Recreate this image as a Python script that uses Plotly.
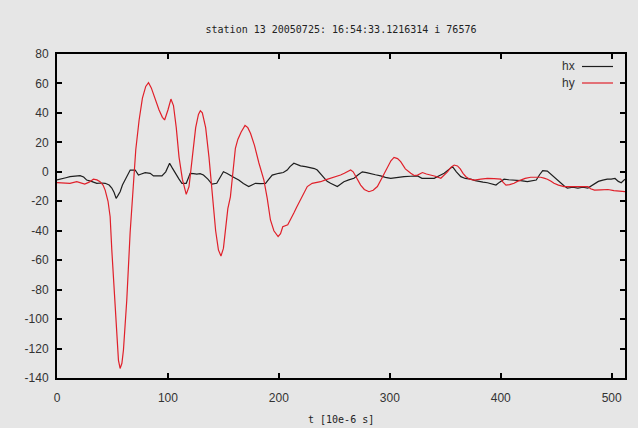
import plotly.graph_objects as go

# ---- data ----
hy_t = [0, 6, 11.7, 17.8, 22, 25, 29, 32.8, 36, 38.8, 41.5, 43.4, 46, 47.9, 49.4, 52.4, 55.4, 56.9,
        58.5, 59.9, 62.9, 65.9, 68.9, 71, 74, 77, 80, 82.5, 85, 88, 92, 95, 97, 100, 102.7, 105,
        107.5, 110, 113, 116.5, 119, 122, 125, 127.5, 129.2, 131, 134, 137, 140, 143, 145.5, 147.8,
        150, 152, 154, 156.3, 158, 160.8, 163, 166, 169.5, 172, 174.5, 178, 182, 186.5, 189.5,
        192.4, 195.5, 199.3, 201.5, 203.5, 208, 211, 213.5, 216, 219.5, 222, 225.6, 230, 234,
        237.6, 242, 246.6, 251, 255.6, 259, 264.7, 267, 270, 273.7, 277, 281.2, 285, 288.8, 293,
        297.8, 301, 303.8, 307, 309.8, 314, 318.9, 322, 325, 329.4, 333, 337, 341, 346, 349, 352,
        355, 358, 361, 363.5, 366, 368.6, 372, 376, 382, 388, 394, 400, 402, 404.7, 408, 412, 415,
        418, 422, 427, 432, 436, 439, 442, 445, 448, 452, 457, 463, 469.5, 474, 478.5, 481, 484.5,
        490, 496.6, 502, 508.6, 512]
hy_v = [-7.4, -7.6, -7.8, -6.7, -7.5, -8.3, -7, -5, -5.5, -6.7, -9, -12.4, -20, -30.5, -53, -94,
        -128, -133.5, -130, -121, -87, -41.6, -5, 15, 35, 50, 58, 60.5, 57, 50, 42, 37, 35.2, 42,
        49.4, 45, 30, 10, -5, -15.3, -10, 10, 30, 39, 41.5, 40, 30, 10, -15, -40, -53, -57.2, -52,
        -38, -25, -17, -5, 16, 22, 27, 31.5, 30, 26, 18, 6, -5.6, -18, -32.7, -40, -44, -42, -37.3,
        -36, -32, -28, -24, -19, -15, -10, -7.8, -7.2, -6.7, -5.5, -4.4, -3.5, -2.2, -1, 1.2, 0,
        -4, -9, -12, -13.5, -12.5, -10, -4, 3.5, 7.5, 9.8, 9, 6.9, 2, -1, -2.5, -2.2, -0.5, -1.5,
        -2.2, -3, -4.4, -2.5, 0, 3, 4.6, 4, 2, -1, -3.3, -5, -5.6, -5, -4.4, -4.6, -5, -7, -9, -8.7,
        -7.8, -6.5, -5.6, -4.5, -3.7, -3.7, -3.7, -4.3, -5, -6.3, -7.8, -9, -10, -10, -10, -10.2,
        -10, -11.5, -12.4, -12.2, -12, -12.8, -13.5, -13.5]

hx_t = [0, 4, 8, 11.7, 16, 20.8, 24, 26.8, 31, 35.9, 40, 43.4, 47, 49.4, 51.5, 53.3, 55, 56.9, 59,
        61.4, 64, 66, 70.5, 73.4, 76, 79.5, 84, 87, 91, 94.6, 98, 101.5, 104, 106.6, 110, 112.6,
        116.5, 118.5, 120, 123, 126, 129, 132, 136, 139.7, 144, 147, 150, 153, 156.3, 160, 163.8,
        168, 172.8, 176, 178.9, 183, 188, 191, 194, 200, 204, 207.5, 210, 213.5, 216, 219.5, 224,
        228.5, 232, 234.6, 237.5, 240.6, 243.5, 246.6, 250, 252.7, 255.5, 258.6, 263, 267.7, 271.5,
        275.2, 279, 282.7, 287, 291.8, 296, 300.8, 306, 312.8, 319, 325, 329, 334, 340, 345, 349,
        353, 356.5, 360, 364, 368, 373, 377, 380.6, 384, 388, 392, 395.7, 399, 403, 407, 412, 418,
        424, 428, 432, 435, 437.8, 442, 445, 448, 451, 454, 457, 460, 465, 469.5, 474, 478.5, 481.5,
        484.5, 488, 492, 496, 499.5, 503, 506, 508.6, 512]
hx_v = [-5.5, -5, -4, -3.3, -3, -2.6, -3.5, -5.6, -6.5, -7.8, -7.6, -7.8, -9, -11, -14, -18, -16,
        -13.5, -9, -5.6, -1, 1.2, 1.2, -2.2, -1.5, -0.6, -1, -2.8, -2.8, -2.8, 0, 5.8, 2.5, -1, -5,
        -7.8, -7.8, -4, -1, -1.2, -1.5, -1.2, -2.2, -5, -8.3, -7.8, -3.5, 0, -1, -2.2, -4, -5.6, -8,
        -10, -9, -7.8, -8, -7.8, -5, -2.2, -1, -0.5, 1.2, 3.5, 5.8, 5, 4, 3.5, 3, 2.2, 1.2, -1.5,
        -4.4, -6.5, -7.8, -9, -10, -8.5, -6.7, -5.5, -4.4, -2, 0, -0.5, -1, -2, -2.8, -3.8, -4.4,
        -3.8, -3.3, -3, -2.8, -4.4, -4.4, -4.4, -2.5, -1, 1.5, 3.5, 0, -3.3, -4.5, -5, -6, -6.7, -7,
        -7.4, -8.2, -9, -7, -5, -5.4, -5.6, -6, -6.7, -6.2, -5.6, -2, 0.8, 0.5, -1.5, -3.3, -5.5,
        -7.8, -9.5, -11, -10.5, -11, -10.5, -11, -9.5, -7.8, -6.5, -5.6, -5, -5, -4.5, -6.5, -7.4, -5]

x_ticks = [0, 100, 200, 300, 400, 500]
y_ticks = [80, 60, 40, 20, 0, -20, -40, -60, -80, -100, -120, -140]
y_ticktext = ["80", "60", "40", "20", "0", "-20", "-40", "-60", "-80", "-100", "-120", "-140"]
series_names = ["hx", "hy"]
series_colors = ["#1e1e1e", "#e0202a"]

title_text = "station 13 20050725: 16:54:33.1216314 i 76576"
x_title = "t [10e-6 s]"

BG = "#e6e6e6"
MONO = "DejaVu Sans Mono"
SANS = "Liberation Sans, Arial, sans-serif"

fig = go.Figure()
fig.add_trace(go.Scatter(x=hx_t, y=hx_v, mode="lines", name=series_names[0],
                         line=dict(color=series_colors[0], width=1.2), showlegend=False))
fig.add_trace(go.Scatter(x=hy_t, y=hy_v, mode="lines", name=series_names[1],
                         line=dict(color=series_colors[1], width=1.2), showlegend=False))

# gnuplot-style key: text right-aligned followed by a line sample
W, H = 638, 428
L, R, T, B = 57, 13, 54, 50
pw, ph = W - L - R, H - T - B
def px(x):
    return (x - L) / pw
def py(y):
    return 1 - (y - T) / ph
for i, (nm, col) in enumerate(zip(series_names, series_colors)):
    yy = 66.5 + i * 16.5
    fig.add_annotation(xref="paper", yref="paper", x=px(577), y=py(yy), text=nm,
                       showarrow=False, xanchor="right", yanchor="middle",
                       font=dict(family=SANS, size=12, color="#333333"))
    fig.add_shape(type="line", xref="paper", yref="paper", x0=px(582), x1=px(613),
                  y0=py(yy), y1=py(yy), line=dict(color=col, width=1.2))

# x-axis title placed like gnuplot's xlabel
fig.add_annotation(xref="paper", yref="paper", x=0.5, y=py(420), text=x_title,
                   showarrow=False, xanchor="center", yanchor="middle",
                   font=dict(family=MONO, size=10, color="#222222"))

fig.update_layout(
    width=W, height=H,
    margin=dict(l=L, r=R, t=T, b=B),
    paper_bgcolor=BG, plot_bgcolor=BG,
    title=dict(text=title_text, x=(L + pw / 2) / W, xanchor="center",
               y=1 - 29 / H, yanchor="middle",
               font=dict(family=MONO, size=10, color="#222222")),
    xaxis=dict(range=[0, 512], tickvals=x_ticks, ticks="inside", ticklen=5, tickwidth=2,
               tickcolor="#000000", showline=True, linecolor="#000000", linewidth=2,
               mirror="allticks", showgrid=False, zeroline=False, automargin=False,
               tickfont=dict(family=SANS, size=12, color="#333333"),
               ticklabelstandoff=8),
    yaxis=dict(range=[-140, 80], tickvals=y_ticks, ticktext=y_ticktext, ticks="inside",
               ticklen=5, tickwidth=2, tickcolor="#000000", showline=True,
               linecolor="#000000", linewidth=2, mirror="allticks", showgrid=False,
               zeroline=False, ticklabelstandoff=4, automargin=False,
               tickfont=dict(family=SANS, size=12, color="#333333")),
)

fig.write_html("out.html")
